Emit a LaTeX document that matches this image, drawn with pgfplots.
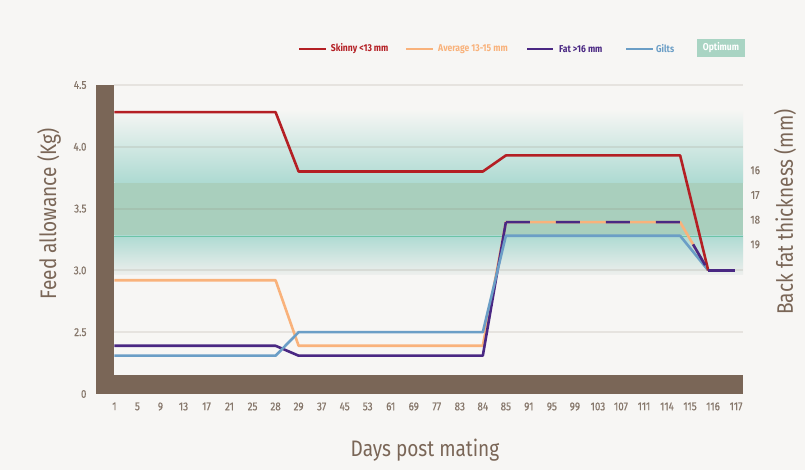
\documentclass[border=0pt]{standalone}
\usepackage{fontspec}
\setmainfont{Fira Sans}[FakeStretch=0.85]
\newfontfamily\legfont{Fira Sans}[FakeStretch=0.86]
\newfontfamily\tickfont{Fira Sans}[FakeStretch=0.86, FakeBold=0.6]
\usepackage{pgfplots}
\pgfplotsset{compat=1.18}
\definecolor{bg}{HTML}{F7F6F4}
\definecolor{wall}{HTML}{7A6657}
\definecolor{txt}{HTML}{7A6657}
\definecolor{tickc}{HTML}{86776B}
\definecolor{cred}{HTML}{B41F24}
\definecolor{corange}{HTML}{F9B27B}
\definecolor{cpurple}{HTML}{4A2883}
\definecolor{cblue}{HTML}{6B9EC6}
\definecolor{copt}{HTML}{A9D4C3}
\definecolor{gridc}{HTML}{8A7A6A}
\definecolor{tealc}{HTML}{6CC4A8}
\definecolor{bandtop}{HTML}{F6F6F4}
\definecolor{bandup}{HTML}{E0E8E4}
\definecolor{bandmid}{HTML}{A9CFBD}
\definecolor{bandedge}{HTML}{ADDAD2}
\definecolor{bandlow}{HTML}{EEEFED}
\begin{document}
\begin{tikzpicture}
\fill[bg] (-96bp,-76bp) rectangle (709bp,394bp);
\begin{axis}[at={(0,0)}, anchor=south west, scale only axis,
  width=647bp, height=309bp,
  xmin=-0.8, xmax=27.3, ymin=2, ymax=4.5,
  axis line style={draw=none}, tick style={draw=none},
  xtick={0,...,27},
  xticklabels={1,5,9,13,17,21,25,28,29,37,45,53,61,69,77,83,84,85,91,95,99,103,107,111,114,115,116,117},
  ytick={2,2.5,3,3.5,4,4.5}, yticklabels={0,2.5,3.0,3.5,4.0,4.5},
  ticklabel style={font=\tickfont\fontsize{11.5}{13}\selectfont, text=tickc},
  /pgf/number format/assume math mode=true,
  yticklabel style={xshift=-6bp},
  xticklabel style={yshift=-5bp},
  clip=false, line join=round]
\shade[top color=bandtop, middle color=bandup, bottom color=bandedge] (axis cs:0,4.30) rectangle (axis cs:27.3,3.71);
\fill[bandmid] (axis cs:0,3.71) rectangle (axis cs:27.3,3.285);
\shade[top color=bandedge, bottom color=bandlow] (axis cs:0,3.285) rectangle (axis cs:27.3,2.965);
\draw[gridc, line width=2bp, opacity=0.15] (axis cs:0,4.5) -- (axis cs:27.3,4.5);
\draw[gridc, line width=2bp, opacity=0.15] (axis cs:0,4.0) -- (axis cs:27.3,4.0);
\draw[gridc, line width=2bp, opacity=0.15] (axis cs:0,3.5) -- (axis cs:27.3,3.5);
\draw[gridc, line width=2bp, opacity=0.15] (axis cs:0,3.0) -- (axis cs:27.3,3.0);
\draw[gridc, line width=2bp, opacity=0.15] (axis cs:0,2.5) -- (axis cs:27.3,2.5);
\draw[tealc, line width=0.9bp] (axis cs:0,3.276) -- (axis cs:27.3,3.276);
\fill[wall] (axis cs:-0.8,2) rectangle (axis cs:0,4.5);
\fill[wall] (axis cs:-0.8,2) rectangle (axis cs:27.3,2.154);
\addplot[corange, line width=2.6bp] coordinates {(0,2.92)(7,2.92)(8,2.39)(16,2.39)(17,3.39)(24.57,3.39)(25.79,3.0)};
\addplot[cpurple, line width=2.6bp] coordinates {(0,2.39)(7,2.39)(8,2.31)(16,2.31)(17,3.39)};
\addplot[cblue, line width=2.6bp] coordinates {(0,2.31)(7,2.31)(8,2.5)(16,2.5)(17,3.28)(24.57,3.28)(25.79,3.0)};
\addplot[cred, line width=2.6bp] coordinates {(0,4.28)(7,4.28)(8,3.80)(16,3.80)(17,3.93)(24.57,3.93)(25.79,3.0)};
\addplot[cpurple, line width=2.6bp, dash pattern=on 24bp off 26bp] coordinates {(17,3.39)(24.57,3.39)(25.79,3.0)};
\addplot[cpurple, line width=2.6bp] coordinates {(25.79,3.0)(26.96,3.0)};
\node[font=\tickfont\fontsize{11.5}{13}\selectfont, text=tickc] at (axis cs:27.83,3.81) {16};
\node[font=\tickfont\fontsize{11.5}{13}\selectfont, text=tickc] at (axis cs:27.83,3.61) {17};
\node[font=\tickfont\fontsize{11.5}{13}\selectfont, text=tickc] at (axis cs:27.83,3.41) {18};
\node[font=\tickfont\fontsize{11.5}{13}\selectfont, text=tickc] at (axis cs:27.83,3.21) {19};
\end{axis}
\node[rotate=90, text=txt, font=\fontsize{22.5}{26}\selectfont] at (-47bp,180bp) {Feed allowance (Kg)};
\node[rotate=90, text=txt, font=\fontsize{22.5}{26}\selectfont] at (689bp,182bp) {Back fat thickness (mm)};
\node[text=txt, font=\fontsize{22.5}{26}\selectfont] at (329bp,-56bp) {Days post mating};
% legend
\draw[cred, line width=2.6bp] (203bp,345bp) -- (230bp,345bp);
\node[anchor=west, inner sep=0pt, text=cred, font=\legfont\bfseries\fontsize{10}{12}\selectfont] at (234.7bp,345bp) {Skinny <13 mm};
\draw[corange, line width=2.6bp] (310bp,345bp) -- (337bp,345bp);
\node[anchor=west, inner sep=0pt, text=corange, font=\legfont\bfseries\fontsize{10}{12}\selectfont] at (342bp,345bp) {Average 13-15 mm};
\draw[cpurple, line width=2.6bp] (431bp,345bp) -- (457bp,345bp);
\node[anchor=west, inner sep=0pt, text=cpurple, font=\legfont\bfseries\fontsize{10}{12}\selectfont] at (463bp,345bp) {Fat >16 mm};
\draw[cblue, line width=2.6bp] (530bp,345bp) -- (557bp,345bp);
\node[anchor=west, inner sep=0pt, text=cblue, font=\legfont\bfseries\fontsize{10}{12}\selectfont] at (560bp,345bp) {Gilts};
\fill[copt] (601bp,337bp) rectangle (649bp,355bp);
\node[text=white, font=\legfont\bfseries\fontsize{10}{12}\selectfont] at (625bp,346bp) {Optimum};
\end{tikzpicture}
\end{document}
